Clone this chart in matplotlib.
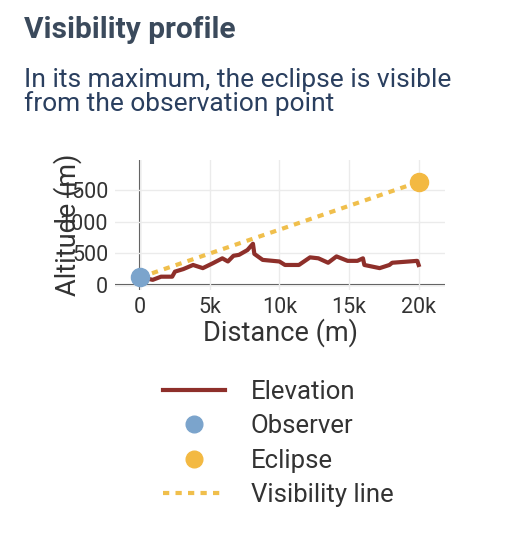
import matplotlib
matplotlib.use("Agg")
import matplotlib.pyplot as plt
from matplotlib.lines import Line2D

dist = [400, 900, 1500, 2300, 2500, 3100, 3800, 4500, 5200, 5900, 6300, 6700, 7100, 7700, 8100, 8200,
        8800, 10000, 10400, 11400, 12200, 12800, 13500, 14100, 14900, 15600, 16000, 16100, 17200, 17900,
        18100, 19900, 20000]
elev = [105, 80, 130, 130, 210, 250, 315, 265, 340, 420, 370, 460, 475, 550, 650, 490,
        395, 370, 315, 315, 435, 420, 350, 450, 380, 380, 420, 315, 265, 315,
        350, 380, 315]
observer = (0, 120)
eclipse = (20000, 1625)

plt.rcParams['font.family'] = ['Roboto', 'DejaVu Sans']
fig = plt.figure(figsize=(5.28, 5.40), dpi=100)
fig.text(0.045, 0.945, "Visibility profile", fontsize=21.5, fontweight='bold', color='#3b4a5c', va='center')
fig.text(0.045, 0.83, "In its maximum, the eclipse is visible\nfrom the observation point",
         fontsize=19, color='#2a3f5f', linespacing=0.95, va='center')
ax = fig.add_axes([0.218, 0.463, 0.625, 0.241])
ax.plot(dist, elev, color='#8e2f2a', lw=3, zorder=3)
ax.plot([observer[0], eclipse[0]], [observer[1], eclipse[1]], color='#f0bf4c', lw=3,
        ls=(0, (1.5, 1.5)), zorder=2)
ax.scatter([observer[0]], [observer[1]], s=170, color='#7ba4cc', zorder=4)
ax.scatter([eclipse[0]], [eclipse[1]], s=170, color='#f3b942', zorder=4)
ax.set_xlim(-1800, 21900)
ax.set_ylim(-80, 1975)
ax.set_xticks([0, 5000, 10000, 15000, 20000])
ax.set_xticklabels(['0', '5k', '10k', '15k', '20k'])
ax.set_yticks([0, 500, 1000, 1500])
for s in ax.spines.values():
    s.set_visible(False)
ax.grid(color='#ebebeb', lw=1)
ax.axhline(0, color='#444', lw=1.5, zorder=1)
ax.axvline(0, color='#444', lw=1.5, zorder=1)
ax.tick_params(length=0, labelsize=15.5, colors='#333', pad=5)
ax.set_xlabel("Distance (m)", fontsize=19.5, color='#333', labelpad=0)
ax.set_ylabel("Altitude (m)", fontsize=19.5, color='#333', labelpad=-16)
handles = [Line2D([], [], color='#8e2f2a', lw=3),
           Line2D([], [], marker='o', ls='', color='#7ba4cc', markersize=12),
           Line2D([], [], marker='o', ls='', color='#f3b942', markersize=12),
           Line2D([], [], color='#f0bf4c', lw=3, ls=(0, (1.5, 1.5)))]
fig.legend(handles, ["Elevation", "Observer", "Eclipse", "Visibility line"], loc='upper left',
           bbox_to_anchor=(0.29, 0.315), frameon=False, fontsize=18.5, labelspacing=0.4,
           handlelength=2.4, handletextpad=1.0, labelcolor='#333', borderaxespad=0)
fig.savefig("out.png", dpi=100)
